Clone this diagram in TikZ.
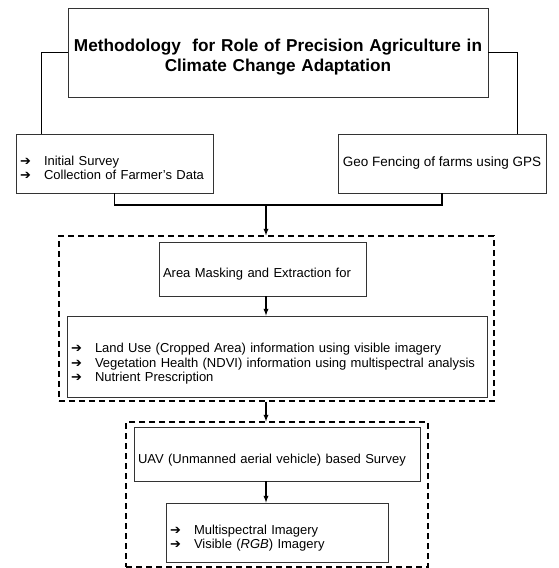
\documentclass[tikz,border=0pt]{standalone}
\usepackage{fontspec}
\setmainfont{Liberation Sans}
\newfontfamily\arrowfont{DejaVu Sans}
\usetikzlibrary{arrows,positioning,calc}

\newcommand{\itm}{\makebox[24pt][l]{\arrowfont\char"2794}}

\tikzset{
  box/.style={draw=black!80, line width=0.8pt, inner xsep=4pt, font=\fontsize{13}{14.5}\selectfont},
  listbox/.style={box, align=left},
  titlebox/.style={box, align=center, inner xsep=0pt, font=\bfseries\fontsize{17.2}{20}\selectfont},
  lower/.style={execute at begin node={\rule{0pt}{#1}}},
  group/.style={draw, dash pattern=on 6pt off 4pt, line width=1.1pt},
  link/.style={line width=1.3pt},
  arr/.style={link, -latex},
}

\begin{document}
\begin{tikzpicture}[x=1pt,y=-1pt]
\useasboundingbox (0,0) rectangle (558,568);

% outer groups
\node[group, minimum width=435pt, minimum height=165pt] (dashA) at (276.5,318.5) {};
\node[group, minimum width=302pt, minimum height=145pt] (dashB) at (277,494.5) {};

\node[titlebox, text width=420pt, minimum height=89pt, lower=21pt] (title) at (278,52.5)
  {Methodology\ \ for Role of Precision Agriculture in\\Climate Change Adaptation};

\node[listbox, text width=189pt, minimum height=59pt, lower=18pt, font=\fontsize{13}{13.5}\selectfont] (survey) at (114.5,163.5)
  {\itm Initial Survey\\\itm Collection of Farmer’s Data};
\node[box, minimum width=208pt, minimum height=59pt, font=\fontsize{13.5}{15}\selectfont] (geo) at (442,163.5)
  {Geo Fencing of farms using GPS};

\node[listbox, text width=199pt, minimum height=54pt, lower=20pt] (area) at (262.5,269)
  {Area Masking and Extraction for};
\node[listbox, text width=412pt, minimum height=81pt, lower=24pt] (list) at (277,356.5)
  {\itm Land Use (Cropped Area) information using visible imagery\\
   \itm Vegetation Health (NDVI) information using multispectral analysis\\
   \itm Nutrient Prescription};

\node[listbox, text width=278pt, minimum height=54pt, lower=22pt] (uav) at (277,454)
  {UAV (Unmanned aerial vehicle) based Survey};
\node[listbox, text width=214pt, minimum height=59pt, lower=21pt] (inner) at (277,532.5)
  {\itm Multispectral Imagery\\\itm Visible (\textit{RGB}) Imagery};

% connectors
\draw[link] (title.west) -| ([xshift=26pt]survey.north west);
\draw[link] (title.east) -| ([xshift=-29pt]geo.north east);
\coordinate (join) at (266,205);
\draw[link] (survey.south) |- (join) -| (geo.south);
\draw[arr] (join) -- (join |- dashA.north);
\draw[arr] (area.south -| join) -- (list.north -| join);
\draw[arr] (dashA.south -| join) -- (dashB.north -| join);
\draw[arr] (uav.south -| join) -- (inner.north -| join);
\end{tikzpicture}
\end{document}
